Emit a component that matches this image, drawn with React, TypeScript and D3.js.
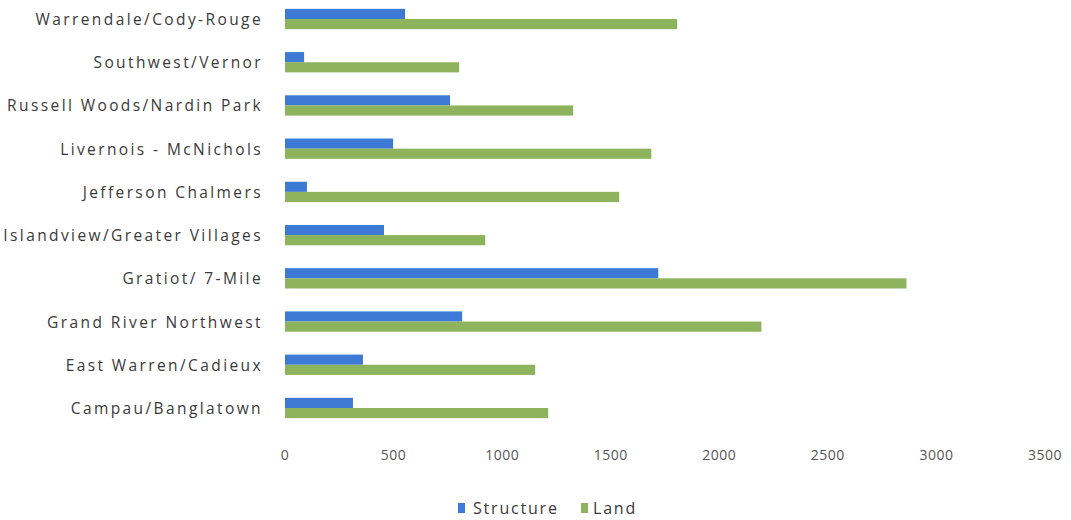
import React from "react";
import * as d3 from "d3";

const categories = [
  "Warrendale/Cody-Rouge",
  "Southwest/Vernor",
  "Russell Woods/Nardin Park",
  "Livernois - McNichols",
  "Jefferson Chalmers",
  "Islandview/Greater Villages",
  "Gratiot/ 7-Mile",
  "Grand River Northwest",
  "East Warren/Cadieux",
  "Campau/Banglatown",
];
const structureValues = [553, 88, 760, 498, 101, 456, 1719, 816, 359, 313];
const landValues = [1806, 802, 1327, 1687, 1539, 922, 2862, 2194, 1152, 1212];
const seriesNames = ["Structure", "Land"];
const xTicks = [0, 500, 1000, 1500, 2000, 2500, 3000, 3500];

const W = 1071;
const H = 520;
const COLORS = ["#3c7ad6", "#8db35c"];
const FONT = "'Open Sans', sans-serif";

export default function App() {
  const x = d3.scaleLinear().domain([0, 3500]).range([285, 1045]);
  const y = d3
    .scaleBand<string>()
    .domain(categories)
    .range([-2.6, 429.6])
    .paddingInner(0.53)
    .paddingOuter(0.265);
  const sub = d3
    .scaleBand<string>()
    .domain(seriesNames)
    .range([0, y.bandwidth()]);
  const series = [structureValues, landValues];

  return (
    <svg
      width={W}
      height={H}
      style={{ position: "absolute", left: 0, top: 0, background: "#fff" }}
    >
      {categories.map((c, i) =>
        series.map((vals, s) => (
          <rect
            key={c + s}
            x={x(0)}
            y={(y(c) as number) + (sub(seriesNames[s]) as number)}
            width={x(vals[i]) - x(0)}
            height={sub.bandwidth()}
            fill={COLORS[s]}
          />
        ))
      )}
      {categories.map((c) => (
        <text
          key={c}
          x={263}
          y={(y(c) as number) + y.bandwidth() / 2}
          textAnchor="end"
          dominantBaseline="central"
          fontFamily={FONT}
          fontSize={15.5}
          letterSpacing={2.4}
          fill="#3a3a3a"
        >
          {c}
        </text>
      ))}
      {xTicks.map((t) => (
        <text
          key={t}
          x={x(t)}
          y={454}
          textAnchor="middle"
          dominantBaseline="central"
          fontFamily={FONT}
          fontSize={14}
          letterSpacing={0.5}
          fill="#555"
        >
          {t}
        </text>
      ))}
      <g>
        <rect x={458} y={503} width={7} height={10} fill={COLORS[0]} />
        <text
          x={473}
          y={508}
          dominantBaseline="central"
          fontFamily={FONT}
          fontSize={16}
          letterSpacing={1.8}
          fill="#3a3a3a"
        >
          {seriesNames[0]}
        </text>
        <rect x={581} y={503} width={7} height={10} fill={COLORS[1]} />
        <text
          x={593}
          y={508}
          dominantBaseline="central"
          fontFamily={FONT}
          fontSize={16}
          letterSpacing={1.8}
          fill="#3a3a3a"
        >
          {seriesNames[1]}
        </text>
      </g>
    </svg>
  );
}
